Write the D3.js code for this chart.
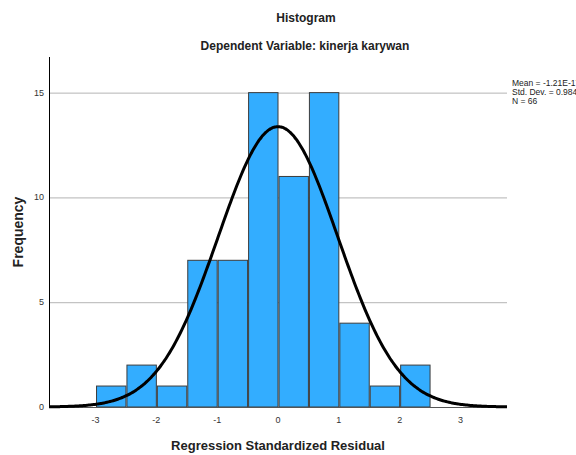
<!DOCTYPE html>
<html lang="en">
<head>
<meta charset="utf-8">
<title>Histogram</title>
<script src="https://cdn.jsdelivr.net/npm/d3@7"></script>
<style>
  body { margin: 0; background: #fff; }
  svg text { font-family: "Liberation Sans", Arial, sans-serif; }
</style>
</head>
<body>
<script>
// bins of the regression standardized residual (width 0.5)
var binStarts = [-3, -2.5, -2, -1.5, -1, -0.5, 0, 0.5, 1, 1.5, 2];
var binCounts = [1, 2, 1, 7, 7, 15, 11, 15, 4, 1, 2];
var binWidth = 0.5;
var xTicks = [-3, -2, -1, 0, 1, 2, 3];
var yTicks = [0, 5, 10, 15];
var stats = { mean: -1.21e-17, sd: 0.984, n: 66 };
var legendLines = ["Mean = -1.21E-17", "Std. Dev. = 0.984", "N = 66"];

var w = 576, h = 455;
var plotL = 49, plotR = 507, plotT = 57, plotB = 407;

var svg = d3.select("body").append("svg").attr("width", w).attr("height", h);

var x = d3.scaleLinear().domain([-3.765, 3.765]).range([plotL, plotR]);
var y = d3.scaleLinear().domain([0, 16.7]).range([plotB, plotT]);

// titles
svg.append("text").attr("x", 306).attr("y", 22).attr("text-anchor", "middle")
    .style("font-size", "12px").style("font-weight", "bold").attr("fill", "#222")
    .text("Histogram");
svg.append("text").attr("x", 305).attr("y", 50).attr("text-anchor", "middle")
    .style("font-size", "12px").style("font-weight", "bold").attr("fill", "#222")
    .text("Dependent Variable: kinerja karywan");

// gridlines
svg.selectAll("line.grid").data(yTicks.filter(function(d){return d > 0;}))
    .enter().append("line").attr("class", "grid")
    .attr("x1", plotL).attr("x2", plotR)
    .attr("y1", function(d){return y(d) + 0.5;}).attr("y2", function(d){return y(d) + 0.5;})
    .attr("stroke", "#b4b4b4").attr("stroke-width", 1);

// bars
svg.selectAll("rect.bar").data(binStarts)
    .enter().append("rect").attr("class", "bar")
    .attr("x", function(d){return x(d) + 1;})
    .attr("width", function(d){return x(d + binWidth) - x(d) - 1;})
    .attr("y", function(d,i){return y(binCounts[i]);})
    .attr("height", function(d,i){return y(0) - y(binCounts[i]);})
    .attr("fill", "#33adff").attr("stroke", "#3c3c3c").attr("stroke-width", 1);

// axis lines
svg.append("line").attr("x1", plotL + 0.5).attr("x2", plotL + 0.5).attr("y1", plotT).attr("y2", plotB)
    .attr("stroke", "#000");
svg.append("line").attr("x1", plotL).attr("x2", plotR).attr("y1", plotB + 0.5).attr("y2", plotB + 0.5)
    .attr("stroke", "#555");

// normal curve
var pts = d3.range(0, 301).map(function(i){ return x.invert(plotL + (plotR - plotL) * i / 300); });
var pdf = function(v){
    var z = (v - stats.mean) / stats.sd;
    return stats.n * binWidth * Math.exp(-0.5 * z * z) / (stats.sd * Math.sqrt(2 * Math.PI));
};
svg.append("path").datum(pts)
    .attr("d", d3.line().x(function(d){return x(d);}).y(function(d){return y(pdf(d));}).curve(d3.curveBasis))
    .attr("fill", "none").attr("stroke", "#000").attr("stroke-width", 3);

// tick labels
svg.selectAll("text.xt").data(xTicks).enter().append("text").attr("class", "xt")
    .attr("x", function(d){return x(d);}).attr("y", 423).attr("text-anchor", "middle")
    .style("font-size", "9px").attr("fill", "#333")
    .text(function(d){return d;});
svg.selectAll("text.yt").data(yTicks).enter().append("text").attr("class", "yt")
    .attr("x", 44).attr("y", function(d){return y(d) + 3;}).attr("text-anchor", "end")
    .style("font-size", "9px").attr("fill", "#333")
    .text(function(d){return d;});

// axis titles
svg.append("text").attr("x", 278).attr("y", 450).attr("text-anchor", "middle")
    .style("font-size", "13px").style("font-weight", "bold").attr("fill", "#222")
    .text("Regression Standardized Residual");
svg.append("text").attr("transform", "translate(23,232) rotate(-90)").attr("text-anchor", "middle")
    .style("font-size", "14px").style("font-weight", "bold").attr("fill", "#222")
    .text("Frequency");

// stats legend (clipped by the right edge, as in the original export)
svg.selectAll("text.leg").data(legendLines).enter().append("text").attr("class", "leg")
    .attr("x", 512).attr("y", function(d,i){return 86 + i * 9;})
    .style("font-size", "8.5px").attr("fill", "#222")
    .text(function(d){return d;});
</script>
</body>
</html>
